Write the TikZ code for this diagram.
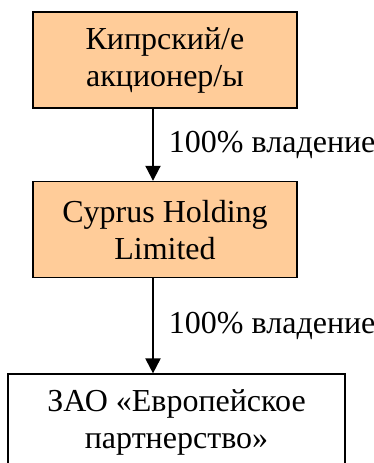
\documentclass[tikz,border=0pt]{standalone}
\usepackage{fontspec}
\setmainfont{Liberation Serif}
\usepackage{xcolor}
\usetikzlibrary{arrows.meta,positioning}
\definecolor{holdorange}{RGB}{255,204,153}

\begin{document}
\begin{tikzpicture}[
    node distance=36pt,
    every node/.style={font=\fontsize{16}{18.5}\selectfont},
    entity/.style={rectangle, draw, line width=0.8pt, fill=holdorange, minimum width=132pt, minimum height=48pt, align=center, inner sep=0pt},
    company/.style={entity, fill=white, minimum width=168.5pt},
    share/.style={midway, right, inner sep=0pt, xshift=7.5pt},
    arrow/.style={-{Triangle[width=7.5pt,length=7.5pt]}, line width=1pt}
]
\useasboundingbox (0,0) rectangle (187pt,-231.5pt);

% Shareholders
\node[entity] (shareholders) at (82.5pt,-30pt) {Кипрский/е\\акционер/ы};

% Holding
\node[entity, below=of shareholders] (holding) {Cyprus Holding\\Limited};

% Russian company
\node[company, below=47.5pt of holding, xshift=5.75pt] (zao) {ЗАО «Европейское\\партнерство»};

% Ownership arrows
\draw[arrow] ([xshift=-6pt]shareholders.south) -- ([xshift=-6pt]holding.north) node[share] {100\% владение};
\draw[arrow] ([xshift=-6pt]holding.south) -- ([xshift=-11.75pt]zao.north) node[share] {100\% владение};

\end{tikzpicture}
\end{document}
